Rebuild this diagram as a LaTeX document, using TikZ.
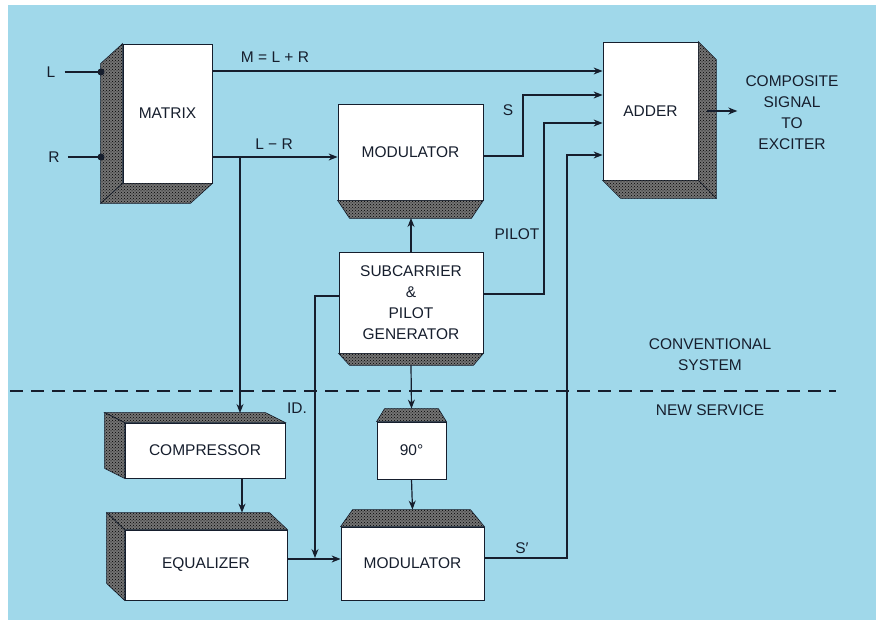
\documentclass[tikz,border=0pt]{standalone}
\usepackage{fontspec}
\setmainfont{Liberation Sans}
\usetikzlibrary{arrows.meta,calc,patterns}
\definecolor{bgblue}{RGB}{160,216,234}
\definecolor{ink}{RGB}{22,30,45}
\begin{document}
\begin{tikzpicture}[x=1pt,y=-1pt,
  font=\fontsize{15.5}{21}\selectfont,
  line/.style={draw=ink, line width=1.2pt},
  arr/.style={line, -{Stealth[length=9pt,width=7pt]}},
  front/.style={draw=ink, line width=0.8pt, fill=white, inner sep=0pt, text=ink, align=center},
  face/.style={draw=ink, line width=0.6pt, fill=black!55, postaction={pattern=crosshatch dots, pattern color=black}},
  lbl/.style={text=ink, inner sep=0pt, align=center}]
\useasboundingbox (0,0) rectangle (876,620);
\fill[white] (0,0) rectangle (876,620);
\fill[bgblue] (8,5) rectangle (876,620);

% ---------- boxes ----------
\node[front, minimum width=89pt, minimum height=139pt] (mat) at (167.5,113.5) {MATRIX};
\draw[face] (mat.north west) -- (mat.south west) -- ($(mat.south west)+(-22,20)$) -- ($(mat.north west)+(-22,20)$) -- cycle;
\draw[face] (mat.south west) -- (mat.south east) -- ($(mat.south east)+(-22,20)$) -- ($(mat.south west)+(-22,20)$) -- cycle;

\node[front, minimum width=95pt, minimum height=138pt] (add) at (650.5,111) {ADDER};
\draw[face] (add.north east) -- ($(add.north east)+(18,18)$) -- ($(add.south east)+(18,18)$) -- (add.south east) -- cycle;
\draw[face] (add.south west) -- (add.south east) -- ($(add.south east)+(18,18)$) -- ($(add.south west)+(18,18)$) -- cycle;

\node[front, minimum width=145pt, minimum height=96pt] (mod1) at (410.5,152) {MODULATOR};
\draw[face] (mod1.south west) -- (mod1.south east) -- ++(-12,18) -- ($(mod1.south west)+(12,18)$) -- cycle;

\node[front, minimum width=144pt, minimum height=101pt] (sub) at (411,302.5) {SUBCARRIER\\\&\\PILOT\\GENERATOR};
\draw[face] (sub.south west) -- (sub.south east) -- ++(-10,12) -- ($(sub.south west)+(11,12)$) -- cycle;

\node[front, minimum width=69pt, minimum height=57pt] (n90) at (411.5,450.5) {90°};
\draw[face] (n90.north west) -- (n90.north east) -- ++(-8,-13) -- ($(n90.north west)+(8,-13)$) -- cycle;

\node[front, minimum width=143pt, minimum height=73pt] (mod2) at (412.5,563.5) {MODULATOR};
\draw[face] (mod2.north west) -- (mod2.north east) -- ++(-14,-17) -- ($(mod2.north west)+(12,-17)$) -- cycle;

\node[front, minimum width=160pt, minimum height=55pt] (comp) at (205,450.5) {COMPRESSOR};
\draw[face] (comp.north west) -- (comp.north east) -- ($(comp.north east)+(-20,-10)$) -- ($(comp.north west)+(-20,-10)$) -- cycle;
\draw[face] (comp.north west) -- (comp.south west) -- ($(comp.south west)+(-20,-10)$) -- ($(comp.north west)+(-20,-10)$) -- cycle;

\node[front, minimum width=162pt, minimum height=70pt] (eq) at (206,565) {EQUALIZER};
\draw[face] (eq.north west) -- (eq.north east) -- ($(eq.north east)+(-18,-17)$) -- ($(eq.north west)+(-18,-17)$) -- cycle;
\draw[face] (eq.north west) -- (eq.south west) -- ($(eq.south west)+(-18,-17)$) -- ($(eq.north west)+(-18,-17)$) -- cycle;

% ---------- labels ----------
\node[lbl] (tL) at (51,72) {L};
\node[lbl] (tR) at (54,157) {R};
\node[lbl] (lM) at (275,57) {M = L + R};
\node[lbl] (lLR) at (274,144) {L − R};
\node[lbl] (lS) at (508,110) {S};
\node[lbl] (lP) at (517,234) {PILOT};
\node[lbl] (lID) at (297,408) {ID.};
\node[lbl] (lS2) at (522,548) {S′};
\node[lbl] (lOut) at (792,113) {COMPOSITE\\SIGNAL\\TO\\EXCITER};
\node[lbl] (lConv) at (710,355) {CONVENTIONAL\\SYSTEM};
\node[lbl] (lNew) at (710,410) {NEW SERVICE};

% ---------- coordinates ----------
\coordinate (Lend) at (101,72);
\coordinate (Rend) at (101,157);
\coordinate (yM) at (0,71);
\coordinate (yLR) at (0,157);
\coordinate (br) at (240,157);
\coordinate (compTop) at (240,413);
\coordinate (yS0) at (0,156);
\coordinate (sBend) at (523,95);
\coordinate (yP0) at (0,294);
\coordinate (pBend) at (544,123);
\coordinate (yS20) at (0,558);
\coordinate (s2Bend) at (567,155);
\coordinate (outS) at (707,111);
\coordinate (yMod1Bot) at (0,218);
\coordinate (ce) at (242,0);
\coordinate (yEq) at (0,559);
\coordinate (yID) at (0,296);
\coordinate (idx) at (315,0);
\coordinate (dA) at (10,391);
\coordinate (dB) at (836,391);

% ---------- connectors ----------
\draw[line] ([xshift=9pt]tL.east |- Lend) -- (Lend);
\fill[ink] (Lend) circle (3.5pt);
\draw[line] ([xshift=8pt]tR.east |- Rend) -- (Rend);
\fill[ink] (Rend) circle (3.5pt);

\draw[arr] (mat.east |- yM) -- (add.west |- yM);
\draw[arr] (mat.east |- yLR) -- (mod1.west |- yLR);
\draw[arr] (br) -- (compTop);
\draw[arr] (mod1.east |- yS0) -| (sBend) -- (add.west |- sBend);
\draw[arr] (sub.east |- yP0) -| (pBend) -- (add.west |- pBend);
\draw[arr] (mod2.east |- yS20) -| (s2Bend) -- (add.west |- s2Bend);
\draw[arr] (outS) -- ([xshift=-8pt]lOut.west |- outS);

\draw[arr] (sub.north) -- (sub.north |- yMod1Bot);
\draw[arr] ($(sub.south)+(0,12)$) -- ($(n90.north)+(0,-13)$);
\draw[arr] (n90.south) -- ($(mod2.north)+(0,-17)$);
\draw[arr] (comp.south -| ce) -- ($(eq.north -| ce)+(0,-17)$);
\draw[arr] (eq.east |- yEq) -- (mod2.west |- yEq);
\draw[arr, shorten >=1pt] (sub.west |- yID) -| (idx |- yEq);

\draw[line, dash pattern=on 13pt off 8pt] (dA) -- (dB);
\end{tikzpicture}
\end{document}
